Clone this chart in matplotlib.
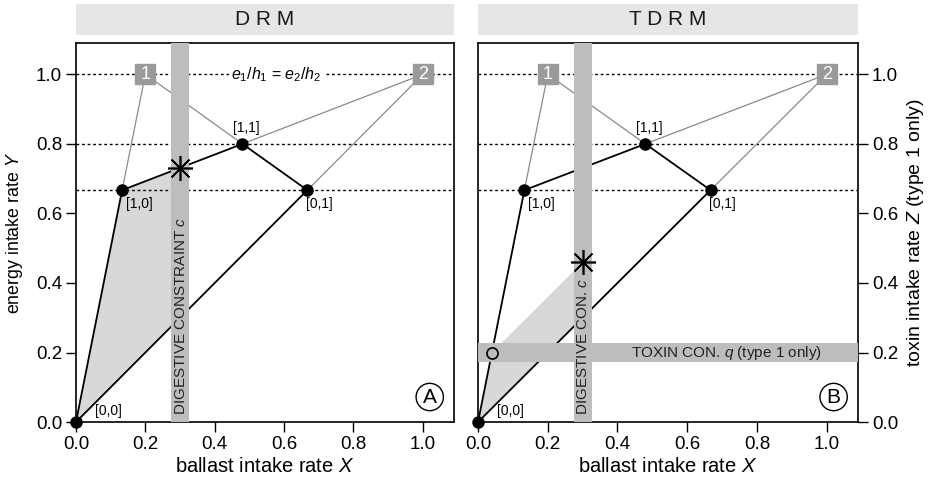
import matplotlib
matplotlib.use('Agg')
import matplotlib.pyplot as plt

plt.rcParams['font.family'] = ['Liberation Sans', 'DejaVu Sans']
plt.rcParams['mathtext.fontset'] = 'custom'
plt.rcParams['mathtext.rm'] = 'Liberation Sans'
plt.rcParams['mathtext.it'] = 'Liberation Sans:italic'

# corners of the intake-rate polygon (X = ballast, Y = energy)
vert_names = ['[0,0]', '[1,0]', '[1,1]', '[0,1]']
vert_x = [0.0, 0.133, 0.48, 0.667]
vert_y = [0.0, 0.667, 0.80, 0.667]
# prey types
prey_names = ['1', '2']
prey_x = [0.2, 1.0]
prey_y = [1.0, 1.0]
guide_y = [1.0, 0.8, 0.667]
# constraints
dig_c = 0.30
tox_q = 0.20
# optimum (star) and feasible areas
star_a = (0.30, 0.73)
star_b = (0.30, 0.46)
circle_b = (0.04, 0.20)
fill_a_x = [0.0, 0.133, 0.30, 0.30]
fill_a_y = [0.0, 0.667, 0.73, 0.30]
fill_b_x = [0.0, 0.04, 0.30, 0.30]
fill_b_y = [0.0, 0.20, 0.46, 0.30]
ticks = [0.0, 0.2, 0.4, 0.6, 0.8, 1.0]
tick_labels = ['0.0', '0.2', '0.4', '0.6', '0.8', '1.0']

bar_col = '#bdbdc0'
fill_col = '#d8d8da'
prey_col = '#9a9a9a'
half = 0.026


def draw_panel(ax, fx, fy, star):
    ax.fill(fx, fy, color=fill_col, lw=0, zorder=1)
    for g in guide_y:
        ax.axhline(g, color='black', lw=1, ls=(0, (2, 2)), zorder=1.5)
    # thin grey lines from prey points
    ax.plot([prey_x[0], vert_x[1]], [prey_y[0], vert_y[1]], color='#8a8a8a', lw=0.9, zorder=2)
    ax.plot([prey_x[0], vert_x[2]], [prey_y[0], vert_y[2]], color='#8a8a8a', lw=0.9, zorder=2)
    ax.plot([prey_x[1], vert_x[2]], [prey_y[1], vert_y[2]], color='#8a8a8a', lw=0.9, zorder=2)
    ax.plot([prey_x[1], vert_x[3]], [prey_y[1], vert_y[3]], color='#8a8a8a', lw=0.9, zorder=2)
    # black polygon
    ax.plot(vert_x + [vert_x[0]], vert_y + [vert_y[0]], color='black', lw=1.3, zorder=2)
    # digestive constraint
    ax.axvspan(dig_c - half, dig_c + half, color=bar_col, lw=0, zorder=3)
    ax.plot(vert_x, vert_y, 'o', color='black', ms=8, zorder=6, clip_on=False)
    ax.plot(prey_x, prey_y, 's', color=prey_col, ms=15, zorder=6)
    for px, py, n in zip(prey_x, prey_y, prey_names):
        ax.text(px, py, n, color='white', fontsize=13, ha='center', va='center', zorder=7)
    ax.plot([star[0]], [star[1]], marker=(8, 2, 0), color='black', ms=18, mew=1.2, zorder=6)
    ax.text(vert_x[0] + 0.055, vert_y[0] + 0.012, vert_names[0], fontsize=10, ha='left', va='bottom')
    ax.text(vert_x[1] + 0.01, vert_y[1] - 0.02, vert_names[1], fontsize=10, ha='left', va='top')
    ax.text(vert_x[2] + 0.01, vert_y[2] + 0.025, vert_names[2], fontsize=10, ha='center', va='bottom')
    ax.text(vert_x[3] - 0.005, vert_y[3] - 0.02, vert_names[3], fontsize=10, ha='left', va='top')
    ax.set_xlim(0, 1.09)
    ax.set_ylim(0, 1.09)
    ax.set_xticks(ticks)
    ax.set_xticklabels(tick_labels)
    ax.tick_params(length=7.5, width=1, labelsize=13.5, pad=2.5)
    ax.set_xlabel('ballast intake rate $X$', fontsize=14.5, labelpad=3)
    for s in ax.spines.values():
        s.set_linewidth(1.2)


fig = plt.figure(figsize=(9.3, 4.84), dpi=100)
axA = fig.add_axes([0.0817, 0.128, 0.4065, 0.783])
axB = fig.add_axes([0.514, 0.128, 0.4086, 0.783])

# panel A
draw_panel(axA, fill_a_x, fill_a_y, star_a)
axA.set_yticks(ticks)
axA.set_yticklabels(tick_labels)
axA.set_ylabel('energy intake rate $Y$', fontsize=12.8, labelpad=8)
axA.text(dig_c + 0.002, 0.02, 'DIGESTIVE CONSTRAINT $c$', rotation=90, fontsize=11,
         ha='center', va='bottom', color='#222222', zorder=4)
axA.text(0.578, 1.0, '$e_1/h_1$ = $e_2/h_2$', fontsize=11.5, ha='center', va='center',
         bbox=dict(boxstyle='square,pad=0.15', fc='white', ec='none'), zorder=2.5)
axA.text(1.02, 0.072, 'A', fontsize=15, ha='center', va='center',
         bbox=dict(boxstyle='circle,pad=0.2', fc='white', ec='black', lw=1))

# panel B
draw_panel(axB, fill_b_x, fill_b_y, star_b)
axB.axhspan(tox_q - half, tox_q + half, color=bar_col, lw=0, zorder=3)
axB.plot([circle_b[0]], [circle_b[1]], 'o', mfc='none', mec='black', ms=8, mew=1.2, zorder=6)
axB.text(dig_c + 0.002, 0.02, 'DIGESTIVE CON. $c$', rotation=90, fontsize=11,
         ha='center', va='bottom', color='#222222', zorder=4)
axB.text(0.985, tox_q, 'TOXIN CON. $q$ (type 1 only)', fontsize=11, ha='right',
         va='center', color='#222222', zorder=4)
axB.text(1.02, 0.072, 'B', fontsize=15, ha='center', va='center',
         bbox=dict(boxstyle='circle,pad=0.2', fc='white', ec='black', lw=1))
axB.yaxis.tick_right()
axB.set_yticks(ticks)
axB.set_yticklabels(tick_labels)
axB.yaxis.set_label_position('right')
axB.set_ylabel('toxin intake rate $Z$ (type 1 only)', fontsize=14, labelpad=5)

# header strips
for ax, name in [(axA, 'D R M'), (axB, 'T D R M')]:
    pos = ax.get_position()
    hdr = fig.add_axes([pos.x0, 0.928, pos.width, 0.064])
    hdr.set_facecolor('#e6e6e6')
    hdr.set_xticks([])
    hdr.set_yticks([])
    for s in hdr.spines.values():
        s.set_visible(False)
    hdr.text(0.5, 0.5, name, fontsize=15, ha='center', va='center', color='#1a1a1a')

fig.savefig('out.png', dpi=100)
